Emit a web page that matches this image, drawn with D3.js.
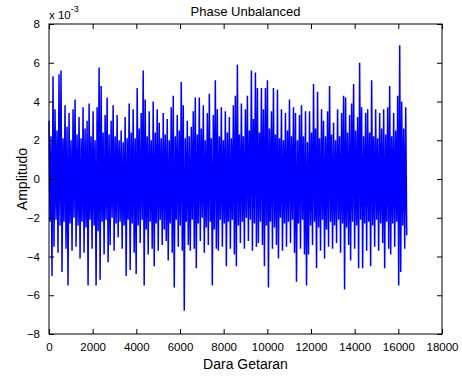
<!DOCTYPE html>
<html>
<head>
<meta charset="utf-8">
<script src="https://cdn.jsdelivr.net/npm/d3@7"></script>
<style>
  body { margin: 0; background: #fff; }
  svg { font-family: Arial, "Liberation Sans", sans-serif; }
</style>
</head>
<body>
<div id="chart"></div>
<script>
// values in units of 1e-3, read column by column (upper / lower excursions)
const highs = [
  3.0, 2.2, 5.3, 3.6, 2.5, 5.4, 5.6, 2.1, 3.8, 2.7,
  3.4, 2.0, 3.6, 4.1, 2.3, 3.2, 2.1, 3.7, 2.6, 3.0,
  3.9, 2.2, 3.5, 2.0, 3.7, 5.75, 4.8, 2.4, 3.3, 4.2,
  2.3, 3.0, 3.8, 2.2, 3.3, 2.0, 2.5, 1.9, 3.2, 2.1,
  3.9, 2.4, 3.6, 2.1, 4.7, 2.6, 3.4, 5.6, 4.1, 2.2,
  3.5, 2.0, 4.0, 2.4, 3.6, 2.9, 2.1, 3.4, 2.3, 3.1,
  2.0, 3.7, 4.3, 2.2, 3.3, 2.5, 5.0, 3.8, 2.1, 3.0,
  2.2, 2.7, 3.5, 4.2, 2.3, 4.2, 2.6, 3.8, 2.0, 3.4,
  4.4, 2.1, 3.3, 5.1, 3.6, 2.2, 3.7, 2.0, 3.5, 2.4,
  3.2, 2.1, 3.8, 4.3, 5.9, 2.3, 3.9, 2.2, 3.6, 4.3,
  2.5, 5.6, 3.1, 5.5, 4.7, 2.4, 4.7, 3.6, 4.7, 5.1,
  2.6, 3.5, 4.7, 2.3, 4.6, 2.1, 3.6, 2.0, 3.4, 2.5,
  4.1, 2.2, 3.7, 3.4, 2.0, 3.3, 3.8, 2.2, 3.5, 1.9,
  3.5, 2.4, 4.9, 2.6, 4.5, 2.1, 3.6, 3.0, 2.2, 3.5,
  4.8, 2.3, 2.9, 2.0, 3.6, 2.2, 3.4, 4.3, 4.2, 2.4,
  3.3, 3.9, 4.9, 2.5, 3.2, 6.0, 3.7, 2.2, 3.4, 3.6,
  2.4, 5.1, 2.2, 3.6, 2.1, 3.4, 2.6, 3.6, 2.3, 3.7,
  4.8, 2.2, 3.4, 2.5, 4.3, 6.9, 4.0, 2.6, 3.7
];
const lows = [
  -2.2, -5.0, -3.5, -2.1, -3.8, -2.4, -4.8, -2.2, -3.6, -5.5,
  -2.3, -3.7, -2.0, -3.5, -2.4, -4.1, -2.2, -3.8, -2.5, -5.5,
  -2.1, -3.6, -2.4, -5.5, -2.7, -5.2, -2.2, -3.9, -2.1, -4.3,
  -3.4, -2.0, -3.7, -2.3, -3.0, -2.2, -3.6, -2.4, -5.0, -2.1,
  -4.7, -2.3, -3.8, -4.9, -2.4, -3.3, -2.1, -5.5, -2.6, -3.9,
  -2.2, -3.6, -4.5, -2.3, -3.7, -2.1, -3.4, -2.6, -3.2, -4.2,
  -2.3, -3.8, -5.6, -2.1, -3.5, -2.4, -3.7, -6.8, -2.2, -3.4,
  -3.7, -2.1, -3.6, -4.6, -2.3, -3.2, -2.0, -3.8, -2.5, -3.4,
  -2.2, -5.5, -2.6, -3.6, -3.7, -2.1, -3.5, -2.3, -4.5, -2.2,
  -3.6, -2.1, -3.9, -4.5, -2.4, -3.3, -2.2, -3.6, -2.0, -3.2,
  -2.1, -3.7, -2.3, -3.5, -3.3, -2.2, -3.4, -4.5, -2.4, -5.6,
  -2.2, -3.6, -2.5, -3.4, -4.1, -2.0, -3.7, -2.3, -3.5, -2.2,
  -3.3, -2.1, -3.8, -5.3, -2.3, -3.6, -2.1, -3.9, -5.5, -3.9,
  -2.4, -3.4, -2.2, -4.6, -2.5, -3.7, -2.1, -4.1, -2.6, -3.5,
  -2.2, -3.6, -2.4, -3.3, -2.1, -3.8, -2.3, -5.7, -2.5, -3.4,
  -4.2, -2.2, -3.6, -2.4, -4.6, -2.1, -4.6, -2.3, -3.7, -2.2,
  -4.5, -2.4, -3.5, -2.1, -3.7, -2.3, -3.3, -4.6, -2.2, -3.6,
  -3.9, -2.3, -3.5, -2.2, -5.5, -4.8, -2.4, -3.6, -2.9
];
const lastSample = 16384;
const xTicks = [0, 2000, 4000, 6000, 8000, 10000, 12000, 14000, 16000, 18000];
const yTicks = [-8, -6, -4, -2, 0, 2, 4, 6, 8];

const width = 462, height = 376;
const margin = { top: 24, right: 20, bottom: 42, left: 49 };

const svg = d3.select('#chart').append('svg')
  .attr('width', width)
  .attr('height', height);

const x = d3.scaleLinear().domain([0, 18000]).range([margin.left, width - margin.right]);
const y = d3.scaleLinear().domain([-8, 8]).range([height - margin.bottom, margin.top]);

// interleave upper/lower excursions into one trace
const series = [];
highs.forEach((h, j) => { series.push(h); series.push(lows[j]); });
const step = lastSample / (series.length - 1);
const points = series.map((v, i) => [i * step, v]);

svg.append('path')
  .datum(points)
  .attr('fill', 'none')
  .attr('stroke', '#0000ff')
  .attr('stroke-width', 1.5)
  .attr('stroke-linejoin', 'miter')
  .attr('d', d3.line().x(d => x(d[0])).y(d => y(d[1])));

// axes, MATLAB style: ticks inward, mirrored on top/right
const x0 = x.range()[0], x1 = x.range()[1];
const y0 = y.range()[0], y1 = y.range()[1];
const fmt = d3.format('d');

svg.append('g')
  .attr('transform', `translate(0,${y0})`)
  .call(d3.axisBottom(x).tickValues(xTicks).tickFormat(fmt).tickSizeInner(-5).tickSizeOuter(0).tickPadding(9))
  .call(g => g.select('.domain').remove());
svg.append('g')
  .attr('transform', `translate(0,${y1})`)
  .call(d3.axisTop(x).tickValues(xTicks).tickSizeInner(-5).tickSizeOuter(0).tickFormat(''))
  .call(g => g.select('.domain').remove());
svg.append('g')
  .attr('transform', `translate(${x0},0)`)
  .call(d3.axisLeft(y).tickValues(yTicks).tickFormat(fmt).tickSizeInner(-5).tickSizeOuter(0).tickPadding(9))
  .call(g => g.select('.domain').remove());
svg.append('g')
  .attr('transform', `translate(${x1},0)`)
  .call(d3.axisRight(y).tickValues(yTicks).tickSizeInner(-5).tickSizeOuter(0).tickFormat(''))
  .call(g => g.select('.domain').remove());

svg.selectAll('.tick text').attr('font-size', 11.5).attr('fill', '#000');
svg.selectAll('.tick line').attr('stroke', '#000');

svg.append('rect')
  .attr('x', x0).attr('y', y1)
  .attr('width', x1 - x0).attr('height', y0 - y1)
  .attr('fill', 'none').attr('stroke', '#000').attr('stroke-width', 1);

// exponent label
const expo = svg.append('text')
  .attr('x', x0).attr('y', 19)
  .attr('font-size', 11.5);
expo.append('tspan').text('x 10');
expo.append('tspan').attr('dy', -7).attr('font-size', 9).text('-3');

svg.append('text')
  .attr('x', (x0 + x1) / 2).attr('y', 16)
  .attr('text-anchor', 'middle')
  .attr('font-size', 13)
  .text('Phase Unbalanced');

svg.append('text')
  .attr('x', (x0 + x1) / 2).attr('y', 369)
  .attr('text-anchor', 'middle')
  .attr('font-size', 14)
  .text('Dara Getaran');

svg.append('text')
  .attr('transform', `translate(27,${(y0 + y1) / 2}) rotate(-90)`)
  .attr('text-anchor', 'middle')
  .attr('font-size', 14)
  .text('Amplitudo');
</script>
</body>
</html>
